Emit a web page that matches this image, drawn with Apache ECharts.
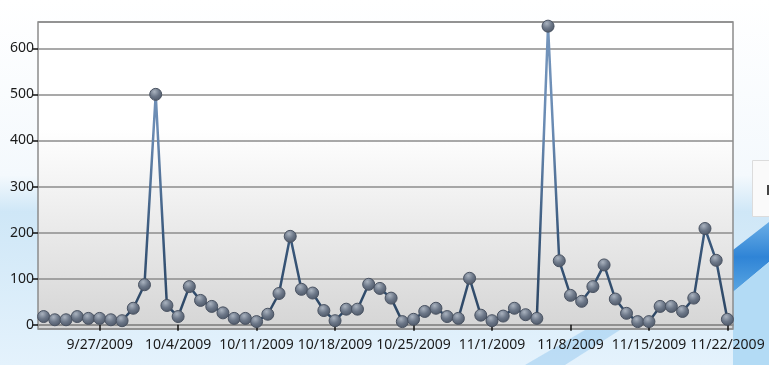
<!DOCTYPE html>
<html>
<head>
<meta charset="utf-8">
<script src="https://cdn.jsdelivr.net/npm/echarts@6/dist/echarts.min.js"></script>
<style>
html,body{margin:0;padding:0;width:769px;height:365px;overflow:hidden;background:#fff;}
#c{width:769px;height:365px;}
</style>
</head>
<body>
<div id="c"></div>
<script>
const categories = [
 '9/22/2009','9/23/2009','9/24/2009','9/25/2009','9/26/2009','9/27/2009','9/28/2009','9/29/2009','9/30/2009',
 '10/1/2009','10/2/2009','10/3/2009','10/4/2009','10/5/2009','10/6/2009','10/7/2009','10/8/2009','10/9/2009','10/10/2009',
 '10/11/2009','10/12/2009','10/13/2009','10/14/2009','10/15/2009','10/16/2009','10/17/2009','10/18/2009','10/19/2009','10/20/2009',
 '10/21/2009','10/22/2009','10/23/2009','10/24/2009','10/25/2009','10/26/2009','10/27/2009','10/28/2009','10/29/2009','10/30/2009','10/31/2009',
 '11/1/2009','11/2/2009','11/3/2009','11/4/2009','11/5/2009','11/6/2009','11/7/2009','11/8/2009','11/9/2009','11/10/2009',
 '11/11/2009','11/12/2009','11/13/2009','11/14/2009','11/15/2009','11/16/2009','11/17/2009','11/18/2009','11/19/2009','11/20/2009',
 '11/21/2009','11/22/2009'
];
const values = [
 18,11,11,18,14,14,11,9,36,
 87,500,42,18,83,53,40,26,14,14,
 7,23,68,192,77,69,31,9,34,34,
 88,79,58,7,12,29,36,18,14,101,21,
 9,19,36,22,14,648,139,64,51,83,
 130,56,25,7,7,40,40,29,58,209,
 140,12
];
const yTickLabels = ['0','100','200','300','400','500','600'];
const labeledDates = ['9/27/2009','10/4/2009','10/11/2009','10/18/2009','10/25/2009','11/1/2009','11/8/2009','11/15/2009','11/22/2009'];

const chart = echarts.init(document.getElementById('c'), null, {renderer:'canvas'});
const G = echarts.graphic;
const FONT = '"Noto Sans", "Open Sans", sans-serif';

const option = {
  animation: false,
  graphic: [
    { type:'rect', z:-10, silent:true, shape:{x:0,y:0,width:769,height:365},
      style:{ fill: new G.LinearGradient(0,0,0,1,[
        {offset:0,color:'#ffffff'},{offset:0.48,color:'#f4f9fd'},{offset:0.58,color:'#cfe7f7'},{offset:1,color:'#e4f2fc'}]) } },
    { type:'polygon', z:-9, silent:true, shape:{points:[[525,365],[585,330],[620,330],[565,365]]},
      style:{ fill:'rgba(140,195,238,0.45)' } },
    { type:'polygon', z:-9, silent:true, shape:{points:[[733,250],[769,222],[769,262],[733,292]]},
      style:{ fill: new G.LinearGradient(0,0,0,1,[{offset:0,color:'#6aaee6'},{offset:0.5,color:'#2f84d6'},{offset:1,color:'#5aa6e2'}]) } },
    { type:'polygon', z:-9, silent:true, shape:{points:[[733,292],[769,262],[769,365],[733,365]]},
      style:{ fill:'#b3dbf5' } },
    { type:'rect', z:-8, silent:true, shape:{x:752.5,y:160.5,width:30,height:56},
      style:{ fill:'#fafafa', stroke:'#dcdcdc', lineWidth:1 } },
    { type:'rect', z:-7, silent:true, shape:{x:767,y:185,width:2,height:10},
      style:{ fill:'#444' } }
  ],
  grid: { left:38, right:36, top:22, bottom:36, show:true,
    borderColor:'#8c8c8c', borderWidth:1.5,
    backgroundColor: new G.LinearGradient(0,0,0,1,[
      {offset:0,color:'#ffffff'},{offset:0.35,color:'#ffffff'},{offset:1,color:'#d5d5d5'}]) },
  xAxis: {
    type:'category', data:categories, boundaryGap:true,
    axisLine:{ show:true, lineStyle:{color:'#8c8c8c', width:1.5} },
    axisTick:{ show:true, alignWithLabel:true, length:6, lineStyle:{color:'#111', width:1.5},
      interval:(i,v)=>labeledDates.indexOf(v)>=0 },
    axisLabel:{ interval:(i,v)=>labeledDates.indexOf(v)>=0, color:'#1a1a1a', fontSize:14, fontFamily:FONT, margin:9 },
    splitLine:{show:false}
  },
  yAxis: {
    type:'value', min:-9, max:657,
    axisLine:{ show:false },
    axisTick:{ show:true, length:5, lineStyle:{color:'#111', width:1.5} },
    axisLabel:{ color:'#1a1a1a', fontSize:14, fontFamily:FONT, margin:4,
      showMinLabel:false, showMaxLabel:false,
      formatter:(v)=>{ const s=String(v); return yTickLabels.indexOf(s)>=0 ? s : ''; } },
    splitLine:{ show:true, lineStyle:{ color:'#8c8c8c', width:1.5 } }
  },
  series: [{
    type:'line', data:values, symbol:'circle', symbolSize:12, showAllSymbol:true,
    lineStyle:{ width:2.5, color: new G.LinearGradient(0,0,0,1,[
      {offset:0,color:'#7596bd'},{offset:0.35,color:'#6a8bb3'},{offset:0.7,color:'#3b5a7e'},{offset:1,color:'#2c4562'}]) },
    itemStyle:{ color: new G.RadialGradient(0.4,0.3,0.75,[
      {offset:0,color:'#aab3bf'},{offset:0.5,color:'#6c7788'},{offset:1,color:'#4a5464'}]),
      borderColor:'#4a5362', borderWidth:1 },
    z:5
  }]
};
chart.setOption(option);
</script>
</body>
</html>
